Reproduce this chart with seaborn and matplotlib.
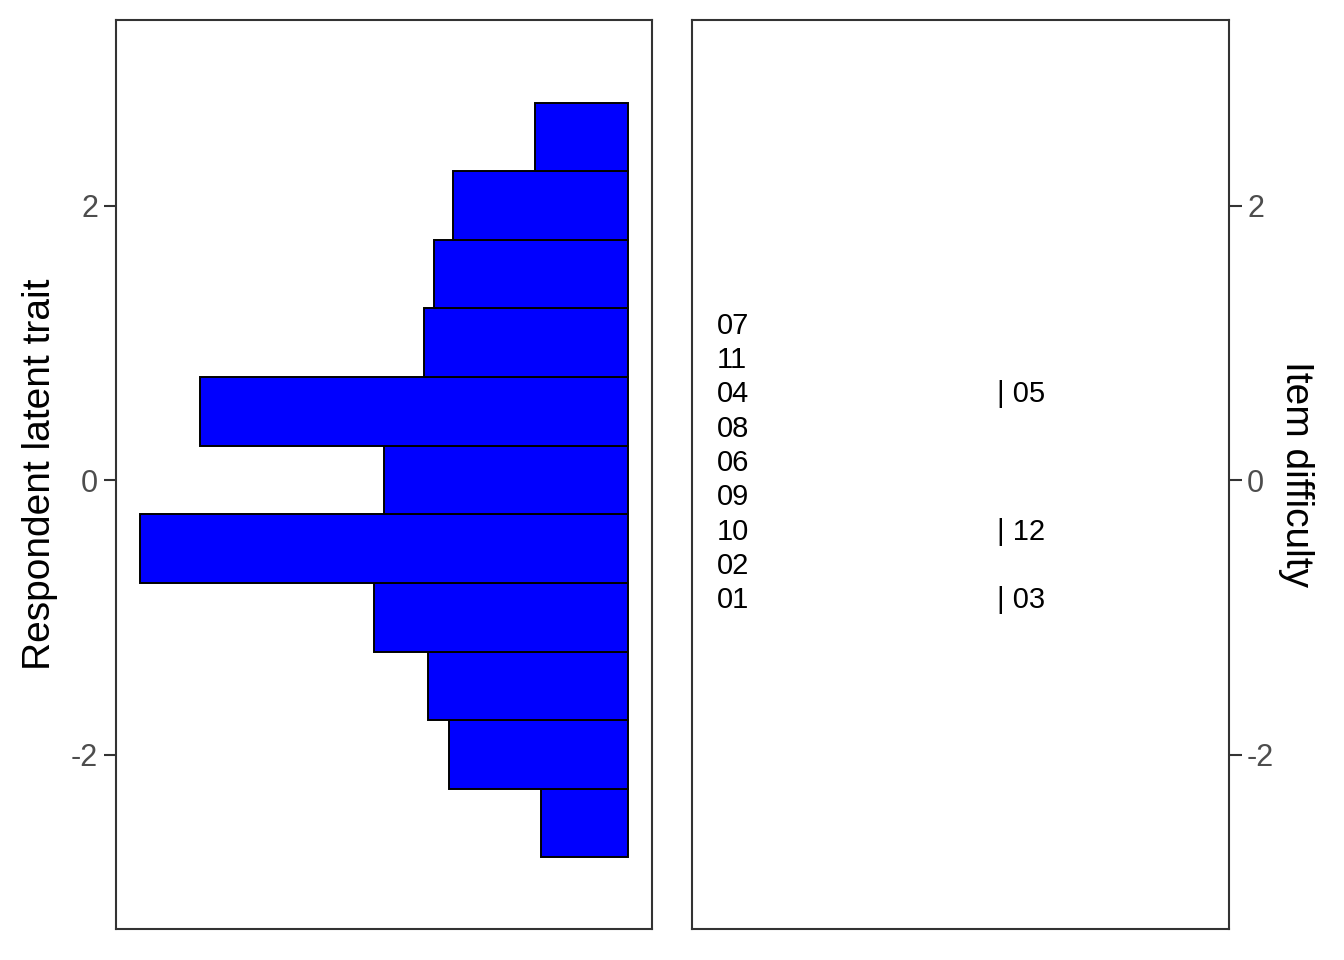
import matplotlib
matplotlib.use("Agg")
import matplotlib.pyplot as plt
import matplotlib.transforms as mtransforms
import seaborn as sns

# ---- data ----
bin_edges = [-2.75, -2.25, -1.75, -1.25, -0.75, -0.25, 0.25, 0.75, 1.25, 1.75, 2.25, 2.75]
bin_centers = [-2.5, -2.0, -1.5, -1.0, -0.5, 0.0, 0.5, 1.0, 1.5, 2.0, 2.5]
person_counts = [8.9, 18.3, 20.5, 26.0, 50.0, 25.0, 43.9, 20.9, 19.9, 17.9, 9.5]

item_col1_labels = ["07", "11", "04", "08", "06", "09", "10", "02", "01"]
item_col1_y = [1.125, 0.875, 0.625, 0.375, 0.125, -0.125, -0.375, -0.625, -0.875]
item_col2_labels = ["| 05", "| 12", "| 03"]
item_col2_y = [0.625, -0.375, -0.875]

y_ticks = [-2, 0, 2]
y_ticklabels = ["-2", "0", "2"]
y_limits = (-3.271, 3.352)

# ---- style ----
sns.set_theme(style="white")
plt.rcParams['font.family'] = ['Liberation Sans', 'DejaVu Sans']

border_col = "#333333"
tick_text_col = "#4D4D4D"

fig = plt.figure(figsize=(13.44, 9.6), dpi=100)
W, H = 1344, 960
ax1 = fig.add_axes([116 / W, 31 / H, 536 / W, 909 / H])
ax2 = fig.add_axes([692 / W, 31 / H, 537 / W, 909 / H])

# left panel: person histogram (bars growing leftwards)
sns.histplot(y=bin_centers, weights=person_counts, bins=bin_edges,
             color="#0000FF", edgecolor="black", linewidth=1.4, alpha=1,
             ax=ax1)
mx = max(person_counts)
ax1.set_xlim(mx * 1.05, -mx * 0.05)
ax1.set_ylim(*y_limits)
ax1.set_xticks([])
ax1.set_xlabel("")
ax1.set_yticks(y_ticks)
ax1.set_yticklabels(y_ticklabels)
ax1.set_ylabel("Respondent latent trait", fontsize=28, color="black", labelpad=9)
ax1.tick_params(axis="y", which="major", length=9, width=1.5, color=border_col,
                labelsize=22, labelcolor=tick_text_col, pad=4, left=True)

# right panel: item labels
ax2.set_xlim(0, 1)
ax2.set_ylim(*y_limits)
ax2.set_xticks([])
trans = mtransforms.blended_transform_factory(ax2.transAxes, ax2.transData)
for lab, yv in zip(item_col1_labels, item_col1_y):
    ax2.text(0.047, yv, lab, transform=trans, ha="left", va="center",
             fontsize=21, color="black")
for lab, yv in zip(item_col2_labels, item_col2_y):
    ax2.text(0.568, yv, lab, transform=trans, ha="left", va="center",
             fontsize=21, color="black")
ax2.yaxis.tick_right()
ax2.yaxis.set_label_position("right")
ax2.set_yticks(y_ticks)
ax2.set_yticklabels(y_ticklabels)
ax2.set_ylabel("Item difficulty", fontsize=28, color="black", rotation=270,
               va="bottom", labelpad=3)
ax2.tick_params(axis="y", which="major", length=9, width=1.5, color=border_col,
                labelsize=22, labelcolor=tick_text_col, pad=4, right=True, left=False)

for ax in (ax1, ax2):
    ax.grid(False)
    ax.set_facecolor("white")
    for sp in ax.spines.values():
        sp.set_visible(True)
        sp.set_color(border_col)
        sp.set_linewidth(1.5)

fig.savefig("out.png", dpi=100, facecolor="white")
